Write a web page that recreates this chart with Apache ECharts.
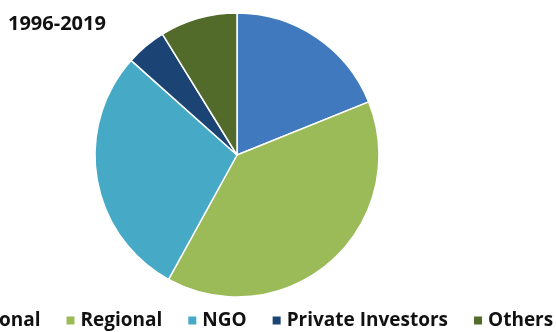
<!DOCTYPE html>
<html>
<head>
<meta charset="utf-8">
<script src="https://cdn.jsdelivr.net/npm/echarts@6/dist/echarts.min.js"></script>
<style>
  html, body { margin: 0; padding: 0; background: #fff; }
  #chart { width: 556px; height: 332px; }
</style>
</head>
<body>
<div id="chart"></div>
<script>
// Share of funding by source, 1996-2019 (percent)
const categories = ['National', 'Regional', 'NGO', 'Private Investors', 'Others'];
const shares = [18.9, 39.1, 28.6, 4.6, 8.8];
const colors = ['#4179BE', '#9BBB59', '#46AAC6', '#1B4474', '#526B2B'];
const titleText = '1996-2019';

const chart = echarts.init(document.getElementById('chart'), null, { renderer: 'canvas' });

const fontFamily = '"Open Sans", "Noto Sans", sans-serif';

chart.setOption({
  animation: false,
  backgroundColor: '#ffffff',
  color: colors,
  title: {
    text: titleText,
    left: 3,
    top: 9,
    textStyle: { fontFamily, fontWeight: 'bold', fontSize: 20, color: '#111' }
  },
  legend: {
    orient: 'horizontal',
    left: -63,
    top: 306,
    width: 800,
    itemWidth: 10,
    itemHeight: 10,
    itemGap: 24,
    icon: 'rect',
    selectedMode: false,
    textStyle: { fontFamily, fontWeight: 'bold', fontSize: 19, color: '#111' },
    data: categories
  },
  series: [{
    type: 'pie',
    center: [237, 155],
    radius: [0, 142],
    startAngle: 90,
    clockwise: true,
    label: { show: false },
    labelLine: { show: false },
    itemStyle: { borderColor: '#ffffff', borderWidth: 1.5 },
    data: categories.map((name, i) => ({ name, value: shares[i] }))
  }]
});
</script>
</body>
</html>
